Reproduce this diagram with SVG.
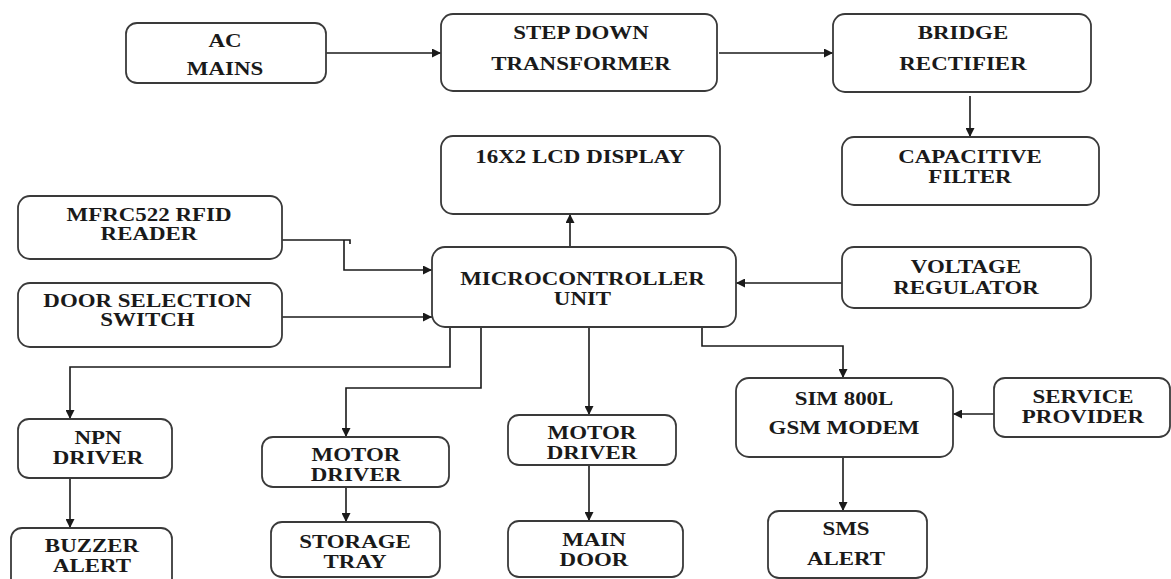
<svg xmlns="http://www.w3.org/2000/svg" width="1171" height="579" viewBox="0 0 1171 579">
<style>
.box{fill:#fff;stroke:#3a3a3a;stroke-width:1.8}
.t{font-family:"Liberation Serif","Times New Roman",serif;font-weight:bold;font-size:18.5px;fill:#1a1a1a;text-anchor:middle}
.c{fill:none;stroke:#1a1a1a;stroke-width:1.6}
</style>
<defs>
<marker id="ah" viewBox="0 0 10 10" refX="10" refY="5" markerWidth="10" markerHeight="9" markerUnits="userSpaceOnUse" orient="auto">
<path d="M0,0 L10,5 L0,10 z" fill="#1a1a1a"/>
</marker>
</defs>
<rect width="1171" height="579" fill="#fff"/>
<g id="connectors">
<path class="c" d="M326 53 H441" marker-end="url(#ah)"/>
<path class="c" d="M719 53 H833" marker-end="url(#ah)"/>
<path class="c" d="M970 96 V137" marker-end="url(#ah)"/>
<path class="c" d="M282 240 H350 v4"/>
<path class="c" d="M344 240 V270 H432" marker-end="url(#ah)"/>
<path class="c" d="M282 317 H432" marker-end="url(#ah)"/>
<path class="c" d="M842 283 H736" marker-end="url(#ah)"/>
<path class="c" d="M570 247 V214" marker-end="url(#ah)"/>
<path class="c" d="M450 327 V367 H70 V419" marker-end="url(#ah)"/>
<path class="c" d="M481 327 V388 H346 V437" marker-end="url(#ah)"/>
<path class="c" d="M589 327 V415" marker-end="url(#ah)"/>
<path class="c" d="M702 327 V346 H843 V378" marker-end="url(#ah)"/>
<path class="c" d="M994 414 H953" marker-end="url(#ah)"/>
<path class="c" d="M70 478 V528" marker-end="url(#ah)"/>
<path class="c" d="M346 487 V522" marker-end="url(#ah)"/>
<path class="c" d="M589 465 V521" marker-end="url(#ah)"/>
<path class="c" d="M843 457 V511" marker-end="url(#ah)"/>
</g>
<g id="ac-mains">
<rect class="box" x="126" y="23" width="200" height="60" rx="11"/>
<text class="t" transform="translate(225,46.5) scale(1.24,1)">AC</text>
<text class="t" transform="translate(225,74.5) scale(1.24,1)">MAINS</text>
</g>
<g id="step-down">
<rect class="box" x="441" y="14" width="276" height="77" rx="12"/>
<text class="t" transform="translate(581,38.5) scale(1.24,1)">STEP DOWN</text>
<text class="t" transform="translate(581,69.5) scale(1.24,1)">TRANSFORMER</text>
</g>
<g id="bridge">
<rect class="box" x="833" y="14" width="258" height="78" rx="12"/>
<text class="t" transform="translate(963,38.5) scale(1.24,1)">BRIDGE</text>
<text class="t" transform="translate(963,69.5) scale(1.24,1)">RECTIFIER</text>
</g>
<g id="lcd">
<rect class="box" x="441" y="136" width="279" height="78" rx="12"/>
<text class="t" transform="translate(580,162.5) scale(1.24,1)">16X2 LCD DISPLAY</text>
</g>
<g id="cap-filter">
<rect class="box" x="842" y="137" width="257" height="68" rx="12"/>
<text class="t" transform="translate(970,163) scale(1.24,1)">CAPACITIVE</text>
<text class="t" transform="translate(970,182.5) scale(1.24,1)">FILTER</text>
</g>
<g id="rfid">
<rect class="box" x="18" y="196" width="264" height="63" rx="12"/>
<text class="t" transform="translate(149,221) scale(1.24,1)">MFRC522 RFID</text>
<text class="t" transform="translate(149,240) scale(1.24,1)">READER</text>
</g>
<g id="mcu">
<rect class="box" x="432" y="247" width="304" height="80" rx="13"/>
<text class="t" transform="translate(582.5,285) scale(1.24,1)">MICROCONTROLLER</text>
<text class="t" transform="translate(582.5,305) scale(1.24,1)">UNIT</text>
</g>
<g id="voltage-regulator">
<rect class="box" x="842" y="247" width="249" height="61" rx="12"/>
<text class="t" transform="translate(966,273) scale(1.24,1)">VOLTAGE</text>
<text class="t" transform="translate(966,294) scale(1.24,1)">REGULATOR</text>
</g>
<g id="door-switch">
<rect class="box" x="18" y="283" width="264" height="64" rx="12"/>
<text class="t" transform="translate(147.5,307) scale(1.24,1)">DOOR SELECTION</text>
<text class="t" transform="translate(147.5,326) scale(1.24,1)">SWITCH</text>
</g>
<g id="npn-driver">
<rect class="box" x="18" y="419" width="154" height="59" rx="11"/>
<text class="t" transform="translate(98,444) scale(1.24,1)">NPN</text>
<text class="t" transform="translate(98,464) scale(1.24,1)">DRIVER</text>
</g>
<g id="buzzer">
<rect class="box" x="11" y="528" width="161" height="62" rx="11"/>
<text class="t" transform="translate(92,552) scale(1.24,1)">BUZZER</text>
<text class="t" transform="translate(92,572) scale(1.24,1)">ALERT</text>
</g>
<g id="motor-driver-1">
<rect class="box" x="262" y="437" width="187" height="50" rx="11"/>
<text class="t" transform="translate(356,461) scale(1.24,1)">MOTOR</text>
<text class="t" transform="translate(356,481) scale(1.24,1)">DRIVER</text>
</g>
<g id="storage-tray">
<rect class="box" x="271" y="522" width="169" height="55" rx="11"/>
<text class="t" transform="translate(355,548) scale(1.24,1)">STORAGE</text>
<text class="t" transform="translate(355,568) scale(1.24,1)">TRAY</text>
</g>
<g id="motor-driver-2">
<rect class="box" x="508" y="415" width="168" height="50" rx="11"/>
<text class="t" transform="translate(592,439) scale(1.24,1)">MOTOR</text>
<text class="t" transform="translate(592,459) scale(1.24,1)">DRIVER</text>
</g>
<g id="main-door">
<rect class="box" x="508" y="521" width="175" height="56" rx="11"/>
<text class="t" transform="translate(594,546) scale(1.24,1)">MAIN</text>
<text class="t" transform="translate(594,566) scale(1.24,1)">DOOR</text>
</g>
<g id="gsm-modem">
<rect class="box" x="736" y="378" width="217" height="79" rx="13"/>
<text class="t" transform="translate(844,404.5) scale(1.24,1)">SIM 800L</text>
<text class="t" transform="translate(844,433.5) scale(1.24,1)">GSM MODEM</text>
</g>
<g id="service-provider">
<rect class="box" x="994" y="378" width="176" height="59" rx="11"/>
<text class="t" transform="translate(1083,403) scale(1.24,1)">SERVICE</text>
<text class="t" transform="translate(1083,423) scale(1.24,1)">PROVIDER</text>
</g>
<g id="sms-alert">
<rect class="box" x="768" y="511" width="159" height="67" rx="11"/>
<text class="t" transform="translate(846,534.5) scale(1.24,1)">SMS</text>
<text class="t" transform="translate(846,564.5) scale(1.24,1)">ALERT</text>
</g>
</svg>
